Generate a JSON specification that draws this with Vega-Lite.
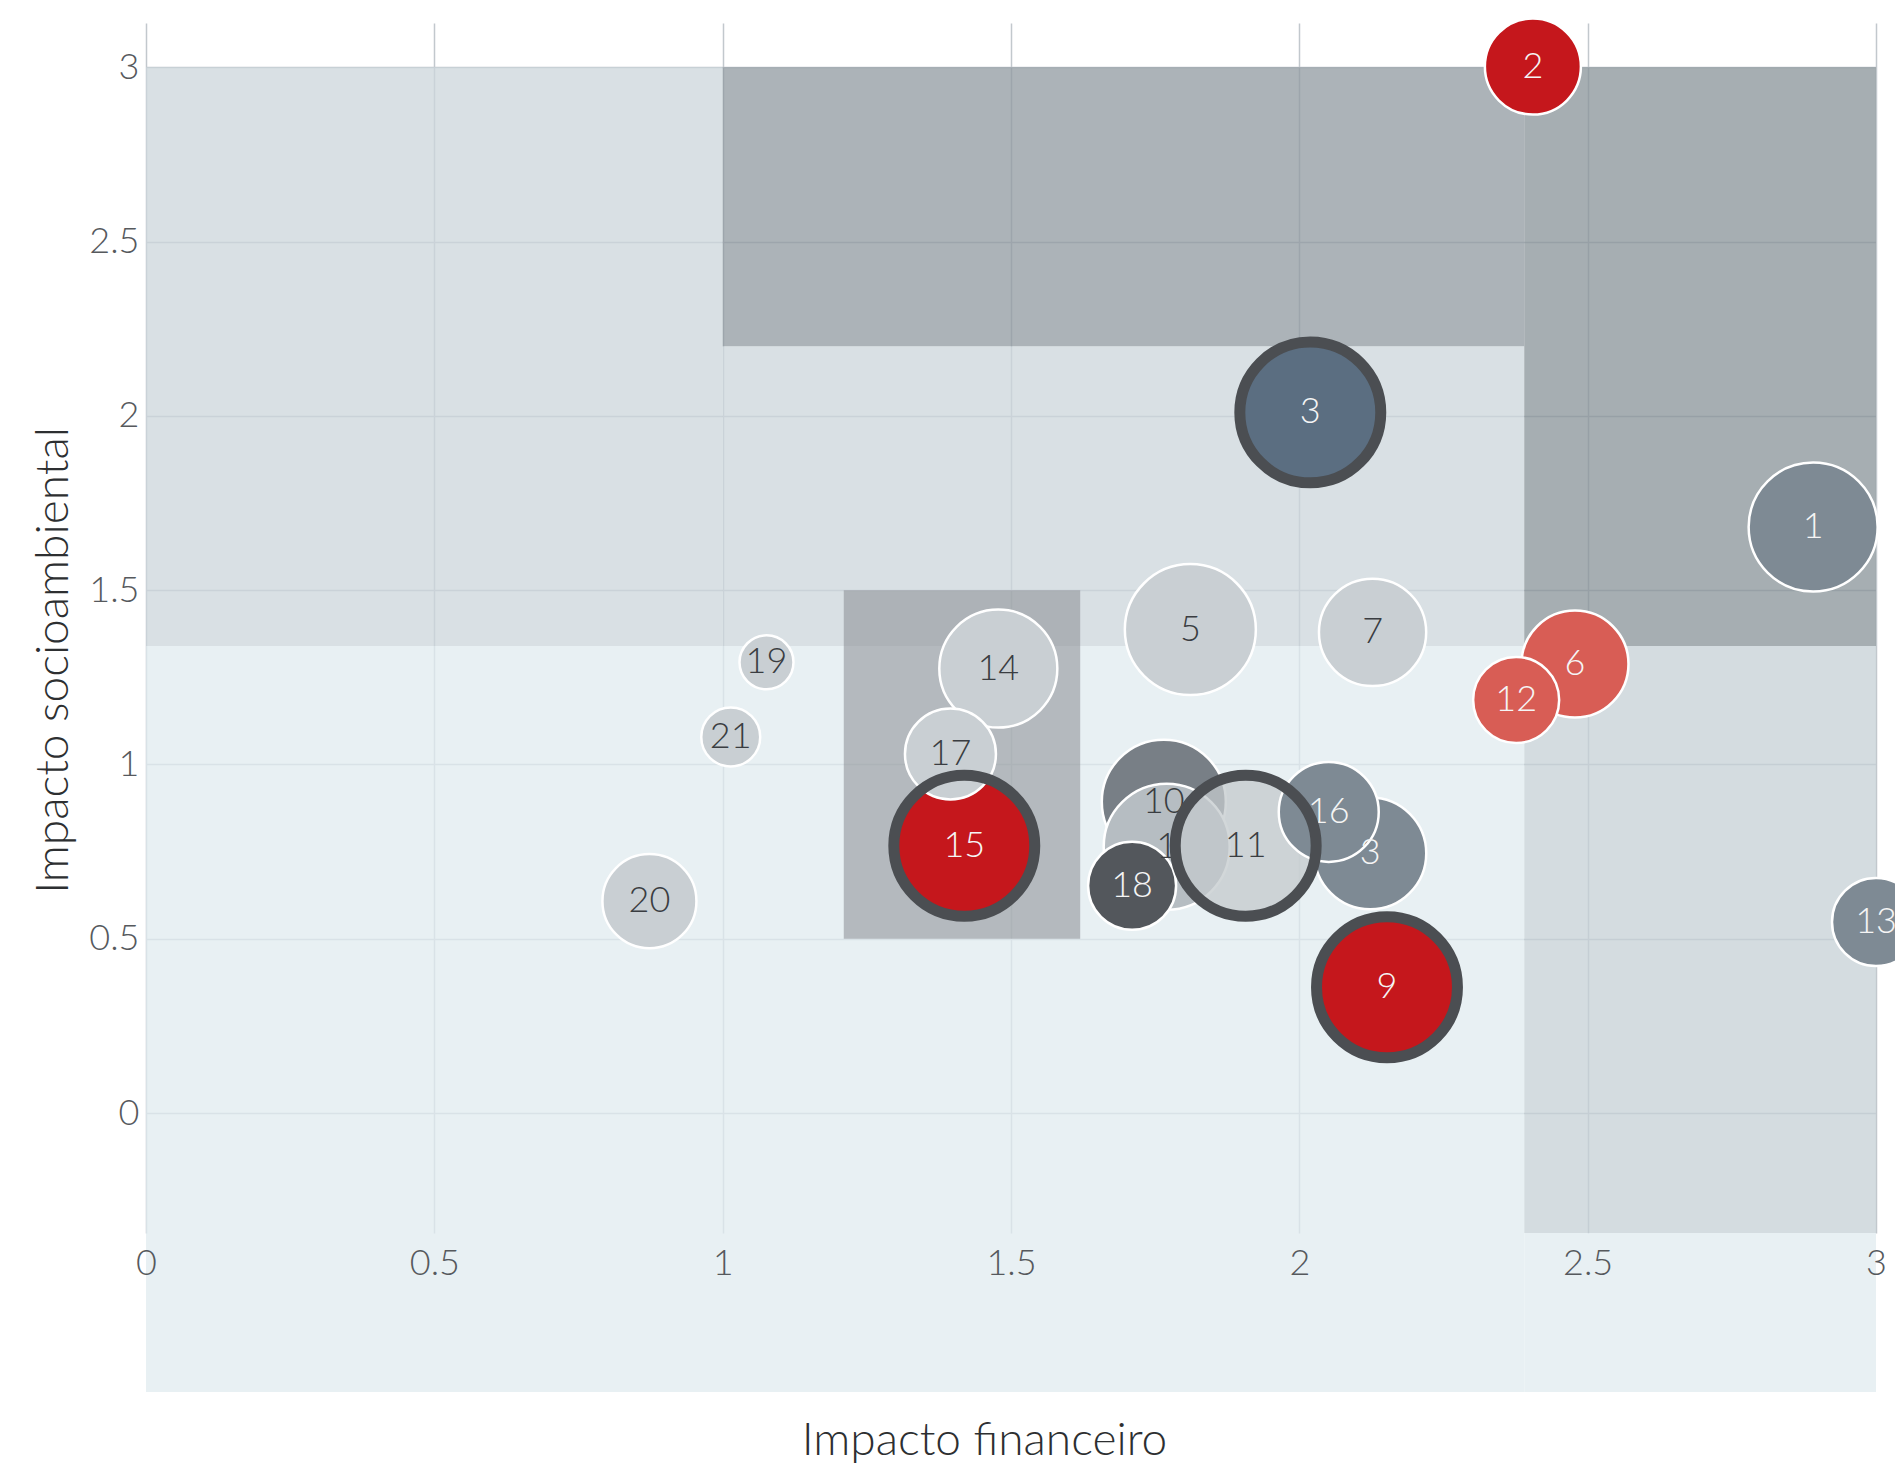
{
  "$schema": "https://vega.github.io/schema/vega-lite/v6.json",
  "width": 1730,
  "height": 1210,
  "autosize": {"type": "none"},
  "padding": {"left": 146, "top": 23, "right": 19, "bottom": 234},
  "background": "white",
  "config": {"view": {"stroke": null}, "font": "Lato"},
  "datasets": {
    "zonas": [
      {"zona": "clara", "x": 0, "x2": 2.39, "y": -0.8, "y2": 1.34},
      {"zona": "clara", "x": 2.39, "x2": 3, "y": -0.8, "y2": -0.344},
      {"zona": "lateral", "x": 2.39, "x2": 3, "y": -0.344, "y2": 1.34},
      {"zona": "faixa", "x": 0, "x2": 1, "y": 1.34, "y2": 3},
      {"zona": "faixa", "x": 1, "x2": 2.39, "y": 1.34, "y2": 2.2},
      {"zona": "escura", "x": 1, "x2": 2.39, "y": 2.2, "y2": 3},
      {"zona": "escura2", "x": 2.39, "x2": 3, "y": 1.34, "y2": 3},
      {"zona": "caixa", "x": 1.21, "x2": 1.62, "y": 0.5, "y2": 1.5}
    ],
    "riscos": [
      {"rotulo": "20", "financeiro": 0.873, "socioambiental": 0.608, "peso": 6.94, "tipo": "claro", "anel": false},
      {"rotulo": "21", "financeiro": 1.014, "socioambiental": 1.079, "peso": 2.73, "tipo": "claro", "anel": false},
      {"rotulo": "19", "financeiro": 1.076, "socioambiental": 1.293, "peso": 2.29, "tipo": "claro", "anel": false},
      {"rotulo": "14", "financeiro": 1.478, "socioambiental": 1.275, "peso": 10.94, "tipo": "claro", "anel": false},
      {"rotulo": "5", "financeiro": 1.811, "socioambiental": 1.387, "peso": 13.48, "tipo": "claro", "anel": false},
      {"rotulo": "7", "financeiro": 2.127, "socioambiental": 1.379, "peso": 9.03, "tipo": "claro", "anel": false},
      {"rotulo": "1", "financeiro": 2.891, "socioambiental": 1.681, "peso": 13.07, "tipo": "ardosia", "anel": false},
      {"rotulo": "2", "financeiro": 2.405, "socioambiental": 3.002, "peso": 7.24, "tipo": "vermelho", "anel": false},
      {"rotulo": "3", "financeiro": 2.019, "socioambiental": 2.01, "peso": 15.6, "tipo": "azul", "anel": true},
      {"rotulo": "6", "financeiro": 2.478, "socioambiental": 1.288, "peso": 8.99, "tipo": "rosa", "anel": false},
      {"rotulo": "12", "financeiro": 2.376, "socioambiental": 1.185, "peso": 5.81, "tipo": "rosa", "anel": false},
      {"rotulo": "10", "financeiro": 1.765, "socioambiental": 0.893, "peso": 12.08, "tipo": "cinza", "anel": false},
      {"rotulo": "1", "financeiro": 1.77, "socioambiental": 0.764, "peso": 12.47, "tipo": "medio", "anel": false},
      {"rotulo": "11", "financeiro": 1.907, "socioambiental": 0.767, "peso": 15.6, "tipo": "translucido", "anel": true},
      {"rotulo": "18", "financeiro": 1.71, "socioambiental": 0.652, "peso": 6.08, "tipo": "grafite", "anel": false},
      {"rotulo": "3", "financeiro": 2.123, "socioambiental": 0.745, "peso": 9.85, "tipo": "ardosia", "anel": false},
      {"rotulo": "16", "financeiro": 2.051, "socioambiental": 0.864, "peso": 7.85, "tipo": "ardosia", "anel": false},
      {"rotulo": "15", "financeiro": 1.419, "socioambiental": 0.767, "peso": 15.6, "tipo": "vermelho", "anel": true},
      {"rotulo": "17", "financeiro": 1.395, "socioambiental": 1.03, "peso": 6.5, "tipo": "claro", "anel": false},
      {"rotulo": "9", "financeiro": 2.152, "socioambiental": 0.361, "peso": 15.6, "tipo": "vermelho", "anel": true},
      {"rotulo": "13", "financeiro": 3.0, "socioambiental": 0.548, "peso": 6.08, "tipo": "ardosia", "anel": false}
    ]
  },
  "layer": [
    {
      "data": {"name": "zonas"},
      "mark": {"type": "rect"},
      "encoding": {
        "x": {
          "field": "x",
          "type": "quantitative",
          "scale": {"domain": [0, 3], "nice": false, "zero": false},
          "axis": {
            "orient": "bottom",
            "values": [0, 0.5, 1, 1.5, 2, 2.5, 3],
            "grid": true,
            "gridColor": "#c2c8cd",
            "gridWidth": 1.5,
            "labels": false,
            "ticks": false,
            "domain": false,
            "title": null
          }
        },
        "x2": {"field": "x2"},
        "y": {
          "field": "y",
          "type": "quantitative",
          "scale": {"domain": [-0.344, 3.127], "nice": false, "zero": false},
          "axis": {
            "orient": "left",
            "values": [0, 0.5, 1, 1.5, 2, 2.5, 3],
            "grid": true,
            "gridColor": "#c2c8cd",
            "gridWidth": 1.5,
            "labels": false,
            "ticks": false,
            "domain": false,
            "title": null
          }
        },
        "y2": {"field": "y2"},
        "fill": {
          "field": "zona",
          "type": "nominal",
          "scale": {
            "domain": ["clara", "lateral", "faixa", "escura", "escura2", "caixa"],
            "range": ["#e0ebef", "#c6d0d6", "#ccd6db", "#909aa0", "#889398", "#898c91"]
          },
          "legend": null
        },
        "opacity": {
          "condition": {"test": "datum.zona === 'caixa'", "value": 0.55},
          "value": 0.75
        }
      }
    },
    {
      "data": {"name": "riscos"},
      "mark": {"type": "point", "shape": "circle", "filled": true, "stroke": "white", "strokeWidth": 2.5},
      "encoding": {
        "x": {
          "field": "financeiro",
          "type": "quantitative",
          "axis": {
            "orient": "bottom",
            "zindex": 1,
            "values": [0, 0.5, 1, 1.5, 2, 2.5, 3],
            "format": "~g",
            "grid": false,
            "ticks": false,
            "domain": false,
            "labelFlush": false,
            "labelOverlap": false,
            "labelFont": "Lato",
            "labelFontSize": 36,
            "labelFontWeight": 300,
            "labelColor": "#56595d",
            "labelPadding": 13,
            "title": "Impacto financeiro",
            "titleFont": "Lato",
            "titleFontSize": 46,
            "titleFontWeight": 300,
            "titleColor": "#2d2f31",
            "titleX": 838,
            "titleY": 221,
            "titleAlign": "center",
            "titleBaseline": "alphabetic"
          }
        },
        "y": {
          "field": "socioambiental",
          "type": "quantitative",
          "axis": {
            "orient": "left",
            "zindex": 1,
            "values": [0, 0.5, 1, 1.5, 2, 2.5, 3],
            "format": "~g",
            "grid": false,
            "ticks": false,
            "domain": false,
            "labelFlush": false,
            "labelOverlap": false,
            "labelFont": "Lato",
            "labelFontSize": 36,
            "labelFontWeight": 300,
            "labelColor": "#56595d",
            "labelPadding": 7,
            "title": "Impacto socioambiental",
            "titleFont": "Lato",
            "titleFontSize": 46,
            "titleFontWeight": 300,
            "titleColor": "#2d2f31",
            "titleX": -79,
            "titleY": 637,
            "titleAngle": 270,
            "titleAlign": "center",
            "titleBaseline": "alphabetic"
          }
        },
        "size": {
          "field": "peso",
          "type": "quantitative",
          "scale": {"type": "linear", "domain": [0, 20], "range": [0, 25465]},
          "legend": null
        },
        "color": {
          "field": "tipo",
          "type": "nominal",
          "scale": {
            "domain": ["vermelho", "rosa", "azul", "ardosia", "cinza", "grafite", "claro", "medio", "translucido"],
            "range": ["#c5171c", "#d85d55", "#5b6e81", "#7e8a94", "#787f86", "#53575c", "#c9cfd3", "#b6bdc2", "#c4cacd"]
          },
          "legend": null
        },
        "opacity": {
          "condition": {"test": "datum.tipo === 'translucido'", "value": 0.75},
          "value": 1
        },
        "strokeOpacity": {
          "condition": {"test": "datum.anel", "value": 0},
          "value": 1
        }
      }
    },
    {
      "data": {"name": "riscos"},
      "mark": {"type": "text", "font": "Lato", "fontSize": 36, "fontWeight": 300, "align": "center", "baseline": "middle"},
      "encoding": {
        "x": {"field": "financeiro", "type": "quantitative", "axis": null},
        "y": {"field": "socioambiental", "type": "quantitative", "axis": null},
        "text": {"field": "rotulo"},
        "color": {
          "condition": {
            "test": "indexof(['claro', 'medio', 'translucido', 'cinza'], datum.tipo) >= 0",
            "value": "#3a3d41"
          },
          "value": "#f5f5f5"
        }
      }
    },
    {
      "data": {"name": "riscos"},
      "transform": [{"filter": "datum.anel"}],
      "mark": {"type": "point", "shape": "circle", "filled": false, "color": "#4b4e52", "strokeWidth": 11, "opacity": 1},
      "encoding": {
        "x": {"field": "financeiro", "type": "quantitative", "axis": null},
        "y": {"field": "socioambiental", "type": "quantitative", "axis": null},
        "size": {"field": "peso", "type": "quantitative", "legend": null}
      }
    }
  ],
  "resolve": {"axis": {"x": "independent", "y": "independent"}}
}
